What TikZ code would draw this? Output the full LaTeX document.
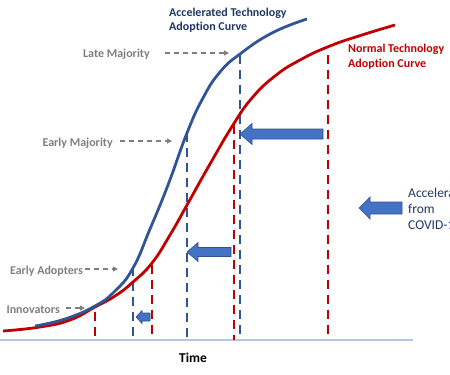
\documentclass[tikz,border=0pt]{standalone}
\usepackage{fontspec}
\setmainfont{Carlito}[Ligatures=NoCommon]
\usetikzlibrary{arrows.meta}
\definecolor{navy}{HTML}{1F3864}
\definecolor{myred}{HTML}{C00000}
\definecolor{dblue}{HTML}{2F5597}
\definecolor{grayt}{HTML}{7F7F7F}
\definecolor{afill}{HTML}{4472C4}
\definecolor{aline}{HTML}{2F528F}
\definecolor{axisc}{HTML}{B4C7E7}
\newcommand\blockarr[6]{%
  \filldraw[barr] (#1,#3) -- (#1+#6,#3-#5) -- (#1+#6,#3-#4) -- (#2,#3-#4) --
    (#2,#3+#4) -- (#1+#6,#3+#4) -- (#1+#6,#3+#5) -- cycle;}
\begin{document}
\begin{tikzpicture}[x=1pt,y=-1pt,
  lbl/.style={text=grayt, font=\fontsize{12}{14}\selectfont\bfseries, inner sep=0pt, anchor=base east},
  ttl/.style={font=\fontsize{12}{14}\selectfont\bfseries, inner sep=0pt, anchor=base west},
  leg/.style={text=navy, font=\fontsize{13.5}{16}\selectfont, inner sep=0pt, anchor=base west},
  ptr/.style={draw=grayt, line width=1.3pt, dash pattern=on 5pt off 4pt, -{Triangle[length=5pt,width=5pt]}},
  vblue/.style={draw=dblue, line width=2pt, dash pattern=on 9pt off 6pt},
  vred/.style={draw=myred, line width=2pt, dash pattern=on 9pt off 6pt},
  cblue/.style={draw=dblue, line width=2.8pt},
  cred/.style={draw=myred, line width=2.8pt},
  barr/.style={fill=afill, draw=aline, line width=0.6pt, line join=miter},
  axisl/.style={draw=axisc, line width=1.3pt}]
\useasboundingbox (0,0) rectangle (450,375);
\clip (0,0) rectangle (450,375);
% axis
\coordinate (ax0) at (0,340);
\coordinate (ax1) at (413,340);
\draw[axisl] (ax0) -- (ax1);
% vertical dashed lines
\draw[vred] (95,312) -- (95,340);
\draw[vblue] (133,267) -- (133,340);
\draw[vred] (152,265) -- (152,340);
\draw[vblue] (187,133) -- (187,340);
\draw[vred] (234,125) -- (234,340);
\draw[vblue] (240,55) -- (240,340);
\draw[vred] (328,55) -- (328,340);
% curves
\draw[cred] plot[smooth, tension=0.8] coordinates {(3,331) (40,327) (70,320) (95,307) (115,296) (133,282) (152,263) (170,235) (187,205) (210,164) (233,125) (252,98) (275,76) (300,60) (330,46) (362,35) (395,25)};
\draw[cblue] plot[smooth, tension=0.8] coordinates {(35,326) (65,319) (95,306) (115,291) (133,268) (150,229) (168,185) (187,133) (203,98) (220,72) (240,54) (272,33) (307,19)};
% block arrows
\blockarr{240}{323}{134}{5}{10.5}{12}
\blockarr{187}{231}{252}{4.5}{9.5}{11}
\blockarr{136}{150}{317}{4}{6.5}{6}
\blockarr{359}{402}{208}{6}{11}{11}
% stage labels with pointers
\node[lbl] (late) at (150,57) {Late Majority};
\coordinate (lateT) at (229,53);
\draw[ptr, shorten <=15pt] (late.east |- lateT) -- (lateT);
\node[lbl] (emaj) at (113,146) {Early Majority};
\coordinate (emajT) at (172,141);
\draw[ptr, shorten <=7pt] (emaj.east |- emajT) -- (emajT);
\node[lbl] (eadp) at (83,274) {Early Adopters};
\coordinate (eadpT) at (118,269);
\draw[ptr, shorten <=2pt] (eadp.east |- eadpT) -- (eadpT);
\node[lbl] (inno) at (60,313) {Innovators};
\coordinate (innoT) at (85,308);
\draw[ptr, shorten <=6pt] (inno.east |- innoT) -- (innoT);
% curve titles
\node[ttl, text=navy] (acc1) at (169,16) {Accelerated Technology};
\node[ttl, text=navy] (acc2) at (169,30.5) {Adoption Curve};
\node[ttl, text=myred] (nor1) at (348,52) {Normal Technology};
\node[ttl, text=myred] (nor2) at (348,67) {Adoption Curve};
% time label
\node[font=\fontsize{13.5}{16}\selectfont\bfseries, inner sep=0pt, anchor=base] (time) at (193,362) {Time};
% legend
\node[leg] (lg1) at (408,197) {Acceleration};
\node[leg] (lg2) at (408,213) {from};
\node[leg] (lg3) at (408,229) {COVID-19};
\end{tikzpicture}
\end{document}
